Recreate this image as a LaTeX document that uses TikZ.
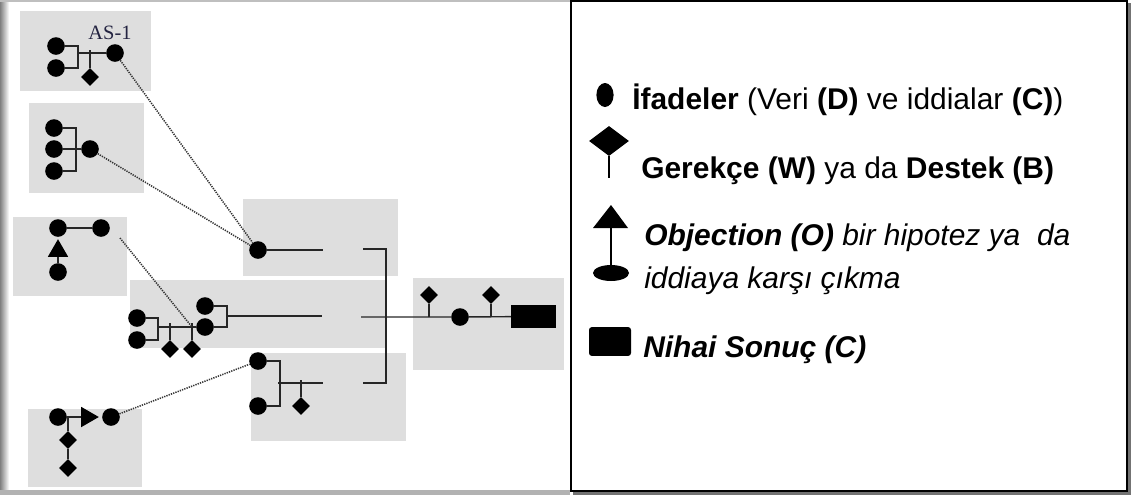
\documentclass[tikz,border=0pt]{standalone}
\usepackage{fontspec}
\setmainfont{Liberation Sans}
\newfontfamily\labelfont{Liberation Serif}
\usetikzlibrary{shapes.geometric}

\tikzset{
  stmt/.style={circle,fill=black,inner sep=0pt,minimum size=0.44cm},
  warrant/.style={diamond,fill=black,inner sep=0pt,minimum size=0.45cm},
  objtri/.style={regular polygon,regular polygon sides=3,fill=black,inner sep=0pt,minimum size=0.59cm},
  panel/.style={fill=black!13},
  arg/.style={line width=1pt,black!85},
  link/.style={line width=1.1pt,black!80,dash pattern=on 0.9pt off 0.8pt},
  legend/.style={anchor=base west,inner sep=0pt,font=\fontsize{21.3}{25}\selectfont},
}

\begin{document}
\begin{tikzpicture}[x=0.025cm,y=-0.025cm]
\useasboundingbox (0,0) rectangle (1131,495);
% frame shadow of the left half
\shade[left color=black!50,right color=white] (0,0) rectangle (9,492);
\fill[black!30] (0,490) rectangle (570,495);
\fill[black!25] (0,0) rectangle (570,1.5);

% grey panels
\foreach \a/\b/\c/\d in {20/11/151/91, 29/103/144/193, 13/217/127/296, 243/199/398/276,
                         130/280/386/348, 251/353/406/441, 28/409/142/487, 413/278/564/370}
  \fill[panel] (\a,\b) rectangle (\c,\d);

% AS-1
\node[font=\labelfont\fontsize{14.5}{16}\selectfont,text={rgb,255:red,35;green,35;blue,65}] (as) at (110,33) {AS-1};
\node[stmt] (a1) at (56,46) {};
\node[stmt] (a2) at (56,68) {};
\node[stmt] (a3) at (115,53) {};
\node[warrant] (aw) at (90,77) {};
\draw[arg] (a1) -| (78,68) -- (a2);
\coordinate (aj) at (78,53);
\draw[arg] (aj) -- (a3);
\coordinate (at) at (90,50);
\draw[arg] (at) -- (aw);

% three data, one claim
\node[stmt] (b1) at (54,128) {};
\node[stmt] (b2) at (54,149) {};
\node[stmt] (b3) at (54,171) {};
\node[stmt] (b4) at (90,149) {};
\draw[arg] (b1) -| (76,171) -- (b3);
\draw[arg] (b2) -- (b4);

% objection
\node[stmt] (c1) at (58,228) {};
\node[stmt] (c2) at (101,228) {};
\node[objtri] (ct) at (58,251) {};
\node[stmt] (c3) at (58,272) {};
\draw[arg] (c1) -- (c2);
\draw[arg] (ct) -- (c3);
\coordinate (cout) at (120,238);

% middle argument
\node[stmt] (d1) at (137,318) {};
\node[stmt] (d2) at (137,340) {};
\node[stmt] (d3) at (205,306) {};
\node[stmt] (d4) at (205,327) {};
\node[warrant] (dw1) at (170,349) {};
\node[warrant] (dw2) at (192,349) {};
\draw[arg] (d1) -| (158,340) -- (d2);
\coordinate (dj) at (158,327);
\draw[arg] (dj) -- (d4);
\coordinate (dt1) at (170,323);
\coordinate (dt2) at (192,323);
\draw[arg] (dt1) -- (dw1);
\draw[arg] (dt2) -- (dw2);
\draw[arg] (d3) -| (227,327) -- (d4);
\coordinate (dj2) at (227,316);
\coordinate (dout) at (322,316);
\draw[arg] (dj2) -- (dout);

% upper sub-claim
\node[stmt] (e1) at (258,250) {};
\coordinate (eout) at (323,250);
\draw[arg] (e1) -- (eout);

% lower sub-argument
\node[stmt] (f1) at (258,361) {};
\node[stmt] (f2) at (258,406) {};
\node[warrant] (fw) at (301,406) {};
\draw[arg] (f1) -| (280,406) -- (f2);
\coordinate (fj) at (278,383);
\coordinate (fout) at (323,383);
\draw[arg] (fj) -- (fout);
\coordinate (ft) at (301,380);
\draw[arg] (ft) -- (fw);

% rebuttal with two backings
\node[stmt] (g1) at (58,417) {};
\node[objtri,rotate=-90] (gt) at (87,417) {};
\node[stmt] (g2) at (111,417) {};
\node[warrant] (gw1) at (68,440) {};
\node[warrant] (gw2) at (68,468) {};
\draw[arg] (g1) -- (gt);
\coordinate (gj) at (68,417);
\draw[arg] (gj) -- (gw1) -- (gw2);

% joining bracket and final claim
\coordinate (ktop) at (363,249);
\coordinate (kbot) at (363,383);
\draw[arg] (ktop) -| (386,383) -- (kbot);
\coordinate (kin) at (361,317);
\node[stmt] (h1) at (460,317) {};
\node[warrant] (hw1) at (429,295) {};
\node[warrant] (hw2) at (491,295) {};
\node[fill=black,inner sep=0pt,minimum width=1.12cm,minimum height=0.58cm] (hc) at (533.5,316.5) {};
\draw[arg] (kin) -- (h1) -- (hc);
\coordinate (ht1) at (429,317);
\coordinate (ht2) at (491,317);
\draw[arg] (ht1) -- (hw1);
\draw[arg] (ht2) -- (hw2);

% dotted links between the sub-arguments
\draw[link] (a3) -- (e1);
\draw[link] (b4) -- (e1);
\draw[link] (cout) -- (dt2 |- dj);
\draw[link] (g2) -- (f1);

% legend box
\fill[black!55] (573,491) rectangle (1131,495);
\fill[black!55] (1128,3) rectangle (1131,495);
\draw[line width=1.5pt] (571,1) rectangle (1127,491);

\node[ellipse,fill=black,inner sep=0pt,minimum width=0.43cm,minimum height=0.6cm] (lstmt) at (605,95) {};
\node[legend] (lstmttx) at (632,109) {\textbf{İfadeler} (Veri \textbf{(D)} ve iddialar \textbf{(C)})};

\node[diamond,fill=black,inner sep=0pt,minimum width=1cm,minimum height=0.75cm] (lwar) at (609,141) {};
\coordinate (lwarend) at (609,178);
\draw[line width=1pt] (lwar) -- (lwarend);
\node[legend] (lwartx) at (641,178) {\textbf{Gerekçe (W)} ya da \textbf{Destek (B)}};

\coordinate (lobjtop) at (611,205);
\coordinate (lobjbase) at (611,227);
\fill (lobjtop) -- (628,228) -- (593,228) -- cycle;
\node[ellipse,fill=black,inner sep=0pt,minimum width=0.9cm,minimum height=0.4cm] (lobj) at (611,273) {};
\draw[line width=1pt] (lobjbase) -- (lobj);
\node[legend] (lobjtx) at (644,245) {\textit{\textbf{Objection (O)} bir hipotez ya\ \ da}};
\node[legend] (lobjtx2) at (644,288) {\textit{iddiaya karşı çıkma}};

\node[fill=black,rounded corners=2pt,inner sep=0pt,minimum width=1.05cm,minimum height=0.72cm] (lfin) at (610,341.5) {};
\node[legend] (lfintx) at (643,357) {\textbf{\textit{Nihai Sonuç (C)}}};
\end{tikzpicture}
\end{document}
